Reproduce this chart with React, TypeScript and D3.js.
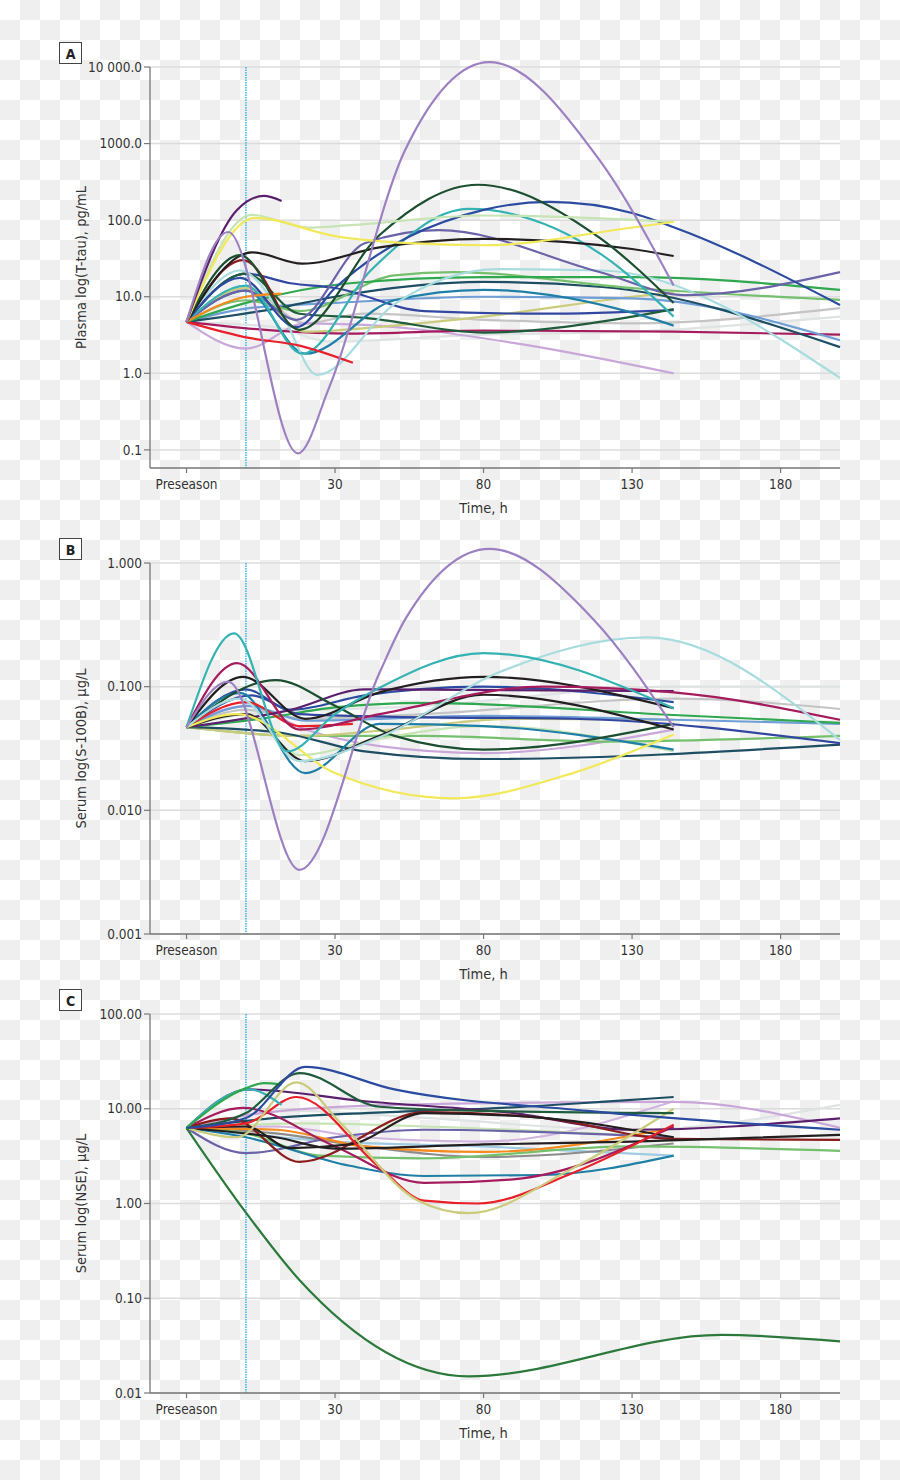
import React from 'react';
import * as d3 from 'd3';

// ---- axes / ticks ----
const X_TICKS = [-20, 30, 80, 130, 180];
const X_LABELS = ['Preseason', '30', '80', '130', '180'];
const CONCUSSION_TIME = 0;

const TAU_TICKS = [10000, 1000, 100, 10, 1, 0.1];
const TAU_LABELS = ['10 000.0', '1000.0', '100.0', '10.0', '1.0', '0.1'];
const S100_TICKS = [1, 0.1, 0.01, 0.001];
const S100_LABELS = ['1.000', '0.100', '0.010', '0.001'];
const NSE_TICKS = [100, 10, 1, 0.1, 0.01];
const NSE_LABELS = ['100.00', '10.00', '1.00', '0.10', '0.01'];

const COLORS: Record<string, string> = {
  purple: '#9d80c2', darkPurple: '#5b1f6e', lightGreen: '#c6e4b4', yellow: '#f2e95a',
  black: '#231f20', darkGreen: '#1c4f30', darkGreen2: '#1f5c3c', blue: '#2b4ba0',
  navy2: '#3347a0', slate: '#6b63a8', green: '#2fa84f', medGreen: '#74c06c',
  darkTeal: '#1d4e63', steel: '#6f9fd6', aqua: '#a8dcdf', gray: '#c4c4c4',
  lightGray: '#dfe3e3', magenta: '#a51c5e', teal: '#35b3b3', cerulean: '#1f7fa6',
  khaki: '#cbcb7c', lilac: '#c9a7d9', red: '#e8202a', darkRed: '#8b1c1c',
  orange: '#f58a1f', midGray: '#8c8c8c', lilac2: '#d2b4e0', lightBlue: '#9fcbe3',
  forest: '#2b7a3b',
};

// ---- Panel A: plasma T-tau (pg/mL); time in h, preseason plotted at -20 ----
const TAU_SERIES: [string, number[][]][] = [
  ['lightGray', [[-20, 4.7], [10, 4], [28, 2.6], [80, 3.2], [130, 3.5], [200, 5.5]]],
  ['gray', [[-20, 4.7], [0, 13], [20, 4.5], [40, 6], [80, 5], [130, 4.5], [200, 7.1]]],
  ['lilac', [[-20, 4.7], [0, 2.1], [20, 4.5], [40, 4.3], [90, 2.5], [144, 1.0]]],
  ['magenta', [[-20, 4.7], [10, 3.6], [35, 3.3], [80, 3.6], [144, 3.5], [200, 3.2]]],
  ['khaki', [[-20, 4.7], [0, 13], [20, 3.5], [50, 4.2], [80, 5.5], [130, 10], [144, 11.5]]],
  ['steel', [[-20, 4.7], [0, 7], [30, 8.3], [80, 10], [130, 9.5], [200, 2.7]]],
  ['darkTeal', [[-20, 4.7], [10, 7], [30, 10], [80, 15.6], [120, 13.4], [200, 2.2]]],
  ['medGreen', [[-20, 4.7], [0, 9], [18, 6.5], [50, 19], [70, 21], [130, 13], [200, 9.1]]],
  ['green', [[-20, 4.7], [0, 8.3], [35, 15], [80, 18], [130, 18], [200, 12.3]]],
  ['navy2', [[-20, 4.7], [0, 20], [15, 15], [30, 13], [60, 6.5], [100, 6], [144, 6.7]]],
  ['darkGreen2', [[-20, 4.7], [0, 20], [18, 6], [40, 5.3], [80, 3.4], [130, 5.5], [144, 6.9]]],
  ['cerulean', [[-20, 4.7], [0, 12], [20, 1.8], [50, 9], [80, 12.3], [130, 6.2], [144, 4.2]]],
  ['aqua', [[-20, 4.7], [-2, 22], [12, 6], [24, 0.95], [50, 8], [85, 23], [120, 22], [200, 0.87]]],
  ['slate', [[-20, 4.7], [0, 12], [17, 5], [40, 50], [65, 74], [119, 21], [148, 10.5], [200, 21]]],
  ['teal', [[-20, 4.7], [0, 14], [19, 1.8], [42, 22], [75, 140], [120, 35], [144, 5.5]]],
  ['blue', [[-20, 4.7], [-2, 17.6], [17, 4.0], [30, 13], [80, 136], [102, 173], [130, 124], [144, 81], [200, 7.8]]],
  ['red', [[-20, 4.7], [1, 2.9], [18, 2.3], [36, 1.37]]],
  ['orange', [[-20, 4.7], [0, 10], [12, 11]]],
  ['darkRed', [[-20, 4.7], [-1, 30], [12, 6.2]]],
  ['black', [[-20, 4.7], [2, 38], [19, 27], [45, 44], [80, 57], [130, 42], [144, 34]]],
  ['darkGreen', [[-20, 4.7], [-2, 35], [18, 3.7], [45, 64], [78, 290], [119, 59], [144, 8.3]]],
  ['lightGreen', [[-20, 4.7], [2, 117], [21, 80], [35, 86], [80, 115], [144, 95]]],
  ['yellow', [[-20, 4.7], [3, 107], [30, 62], [55, 50], [80, 47], [129, 79], [144, 95]]],
  ['darkPurple', [[-20, 4.7], [-3, 136], [6, 207], [12, 178]]],
  ['purple', [[-20, 4.7], [-6, 70], [17.5, 0.09], [28, 0.65], [53.6, 824], [82, 11600], [119, 611], [144, 14]]],
];

// ---- Panel B: serum S-100B (µg/L) ----
const S100_SERIES: [string, number[][]][] = [
  ['lightGray', [[-20, 0.047], [0, 0.06], [60, 0.07], [144, 0.1], [200, 0.1]]],
  ['gray', [[-20, 0.047], [0, 0.065], [20, 0.055], [60, 0.06], [144, 0.08], [200, 0.066]]],
  ['lilac', [[-20, 0.047], [0, 0.07], [20, 0.045], [45, 0.033], [80, 0.029], [144, 0.045]]],
  ['medGreen', [[-20, 0.047], [20, 0.04], [60, 0.04], [120, 0.036], [200, 0.04]]],
  ['lightGreen', [[-20, 0.047], [0, 0.06], [18, 0.028], [45, 0.038], [80, 0.048], [144, 0.03]]],
  ['khaki', [[-20, 0.047], [20, 0.04], [45, 0.044], [90, 0.055], [144, 0.054]]],
  ['darkTeal', [[-20, 0.047], [10, 0.043], [40, 0.03], [80, 0.026], [200, 0.034]]],
  ['steel', [[-20, 0.047], [1, 0.07], [20, 0.053], [80, 0.058], [144, 0.054], [200, 0.05]]],
  ['green', [[-20, 0.047], [5, 0.055], [30, 0.068], [60, 0.074], [144, 0.059], [200, 0.051]]],
  ['navy2', [[-20, 0.047], [2, 0.085], [18, 0.06], [50, 0.057], [110, 0.055], [200, 0.035]]],
  ['blue', [[-20, 0.047], [0, 0.095], [15, 0.065], [40, 0.085], [80, 0.1], [144, 0.075]]],
  ['cerulean', [[-20, 0.047], [-2, 0.089], [20, 0.02], [45, 0.05], [80, 0.048], [144, 0.031]]],
  ['red', [[-20, 0.047], [0, 0.075], [18, 0.048], [36, 0.05]]],
  ['darkPurple', [[-20, 0.047], [15, 0.065], [40, 0.095], [144, 0.092]]],
  ['darkGreen', [[-20, 0.047], [10, 0.113], [30, 0.07], [50, 0.04], [80, 0.031], [144, 0.05]]],
  ['black', [[-20, 0.047], [0, 0.06], [20, 0.025], [45, 0.04], [80, 0.086], [144, 0.045]]],
  ['black', [[-20, 0.047], [-1, 0.12], [20, 0.055], [45, 0.09], [80, 0.12], [144, 0.067]]],
  ['magenta', [[-20, 0.047], [-3, 0.155], [18, 0.045], [45, 0.06], [100, 0.1], [144, 0.09], [200, 0.054]]],
  ['yellow', [[-20, 0.047], [-3, 0.06], [30, 0.02], [70, 0.0125], [110, 0.02], [144, 0.041]]],
  ['aqua', [[-20, 0.047], [-2, 0.08], [18, 0.025], [45, 0.039], [85, 0.13], [135, 0.25], [200, 0.037]]],
  ['teal', [[-20, 0.047], [-4, 0.27], [14, 0.03], [30, 0.06], [45, 0.098], [80, 0.187], [144, 0.067]]],
  ['purple', [[-20, 0.047], [-6, 0.11], [18, 0.0033], [45, 0.13], [53.6, 0.35], [82, 1.3], [117, 0.35], [144, 0.047]]],
];

// ---- Panel C: serum NSE (µg/L) ----
const NSE_SERIES: [string, number[][]][] = [
  ['lightGray', [[-20, 6.26], [15, 9.5], [60, 8], [130, 6], [200, 11]]],
  ['lightBlue', [[-20, 6.26], [30, 4.5], [80, 4], [144, 3.2]]],
  ['lilac2', [[-20, 6.26], [10, 6.5], [40, 5], [80, 4.5], [144, 12]]],
  ['lilac', [[-20, 6.26], [5, 9], [50, 11], [144, 11.8], [200, 6.3]]],
  ['lightGreen', [[-20, 6.26], [20, 7], [60, 6.5], [144, 5]]],
  ['midGray', [[-20, 6.26], [10, 5.5], [40, 4], [80, 3.1], [144, 4.3]]],
  ['slate', [[-20, 6.26], [0, 3.4], [30, 5], [60, 6], [144, 5]]],
  ['medGreen', [[-20, 6.26], [0, 5.5], [25, 3.2], [60, 3.0], [130, 4], [200, 3.6]]],
  ['cerulean', [[-20, 6.26], [0, 5], [35, 2.5], [60, 1.95], [100, 2], [144, 3.2]]],
  ['orange', [[-20, 6.26], [10, 6], [40, 4], [80, 3.5], [144, 6.3]]],
  ['darkTeal', [[-20, 6.26], [10, 8], [40, 9], [80, 10], [144, 13.3]]],
  ['magenta', [[-20, 6.26], [-1, 10.2], [30, 4], [60, 1.65], [90, 1.8], [144, 6.5]]],
  ['darkPurple', [[-20, 6.26], [1, 16], [40, 12], [90, 9], [130, 6], [200, 7.9]]],
  ['darkRed', [[-20, 6.26], [-5, 7.9], [18, 2.75], [60, 9.2], [100, 8], [144, 4.8], [200, 4.7]]],
  ['black', [[-20, 6.26], [10, 5], [30, 3.8], [80, 4.2], [130, 4.5], [200, 5.3]]],
  ['black', [[-20, 6.26], [0, 6.5], [15, 3.85], [35, 4.2], [60, 9], [100, 8], [144, 5]]],
  ['red', [[-20, 6.26], [0, 7], [17, 13.3], [45, 2.4], [60, 1.07], [78, 1.0], [110, 2.1], [144, 6.8]]],
  ['khaki', [[-20, 6.26], [-3, 5], [17, 19], [32, 7], [58, 1.07], [75, 0.79], [109, 2.26], [144, 10]]],
  ['teal', [[-20, 6.26], [1, 16], [12, 11]]],
  ['green', [[-20, 6.26], [0, 16.5], [6, 18.6], [12, 18]]],
  ['darkGreen2', [[-20, 6.26], [0, 9], [18, 23.8], [45, 10.5], [80, 9.5], [144, 9]]],
  ['blue', [[-20, 6.26], [0, 8], [20, 27.6], [50, 16], [115, 9.5], [200, 6]]],
  ['forest', [[-20, 6.26], [0, 0.8], [18, 0.156], [75, 0.015], [160, 0.041], [200, 0.035]]],
];

const FONT = "'DejaVu Sans Condensed', 'DejaVu Sans', sans-serif";
const TEXT = '#333';

type PanelProps = {
  letter: string;
  top: number;
  bottom: number;
  domain: [number, number];
  ticks: number[];
  labels: string[];
  title: string;
  series: [string, number[][]][];
};

const xScale = d3.scaleLinear().domain([-32.3, 200]).range([150, 840]);

function Panel({ letter, top, bottom, domain, ticks, labels, title, series }: PanelProps) {
  const y = d3.scaleLog().domain(domain).range([bottom, top]);
  const line = d3
    .line<number[]>()
    .x((d) => xScale(d[0]))
    .y((d) => y(d[1]))
    .curve(d3.curveMonotoneX);
  const left = xScale.range()[0];
  const right = xScale.range()[1];
  const x0 = xScale(CONCUSSION_TIME);
  const mid = (top + bottom) / 2;
  return (
    <g>
      <rect x={59.5} y={top - 24.5} width={22} height={21} fill="#fff" stroke="#444" strokeWidth={1} />
      <text x={70.5} y={top - 8.5} textAnchor="middle" fontFamily={FONT} fontWeight="bold" fontSize={14} fill="#222">
        {letter}
      </text>
      {ticks.map((t) => (
        <line key={'g' + t} x1={left} x2={right} y1={y(t)} y2={y(t)} stroke="#dcdcdc" strokeWidth={1.5} />
      ))}
      <line x1={x0} x2={x0} y1={top} y2={bottom} stroke="#3ab4e6" strokeWidth={1.5} strokeDasharray="1.5 1" />
      {series.map(([c, pts], i) => (
        <path key={i} d={line(pts) || ''} fill="none" stroke={COLORS[c]} strokeWidth={2.2} />
      ))}
      <line x1={left} x2={left} y1={top} y2={bottom} stroke="#777" strokeWidth={1.3} />
      {ticks.map((t, i) => (
        <g key={'yt' + t}>
          <line x1={left - 6} x2={left} y1={y(t)} y2={y(t)} stroke="#777" strokeWidth={1.2} />
          <text x={left - 8} y={y(t)} dy="0.35em" textAnchor="end" fontFamily={FONT} fontSize={13.5} fill={TEXT}>
            {labels[i]}
          </text>
        </g>
      ))}
      <line x1={left} x2={right} y1={bottom} y2={bottom} stroke="#777" strokeWidth={1.3} />
      {X_TICKS.map((t, i) => (
        <g key={'xt' + t}>
          <line x1={xScale(t)} x2={xScale(t)} y1={bottom} y2={bottom + 5} stroke="#777" strokeWidth={1.2} />
          <text x={xScale(t)} y={bottom + 16} dy="0.35em" textAnchor="middle" fontFamily={FONT} fontSize={13.5} fill={TEXT}>
            {X_LABELS[i]}
          </text>
        </g>
      ))}
      <text x={xScale(80)} y={bottom + 40} dy="0.35em" textAnchor="middle" fontFamily={FONT} fontSize={14.5} fill={TEXT}>
        Time, h
      </text>
      <text
        transform={`translate(81,${mid}) rotate(-90)`}
        textAnchor="middle"
        dy="0.35em"
        fontFamily={FONT}
        fontSize={14.5}
        fill={TEXT}
      >
        {title}
      </text>
    </g>
  );
}

export default function App() {
  return (
    <svg
      width={900}
      height={1480}
      viewBox="0 0 900 1480"
      style={{ position: 'absolute', left: 0, top: 0, display: 'block' }}
    >
      <defs>
        <pattern id="checker" x={0} y={0} width={40} height={40} patternUnits="userSpaceOnUse">
          <rect width={40} height={40} fill="#ffffff" />
          <rect x={20} y={0} width={20} height={20} fill="#efefef" />
          <rect x={0} y={20} width={20} height={20} fill="#efefef" />
        </pattern>
      </defs>
      <rect width={900} height={1480} fill="url(#checker)" />
      <Panel
        letter="A"
        top={67}
        bottom={468}
        domain={[0.058, 10000]}
        ticks={TAU_TICKS}
        labels={TAU_LABELS}
        title="Plasma log(T-tau), pg/mL"
        series={TAU_SERIES}
      />
      <Panel
        letter="B"
        top={563}
        bottom={934}
        domain={[0.001, 1]}
        ticks={S100_TICKS}
        labels={S100_LABELS}
        title="Serum log(S-100B), µg/L"
        series={S100_SERIES}
      />
      <Panel
        letter="C"
        top={1014}
        bottom={1393}
        domain={[0.01, 100]}
        ticks={NSE_TICKS}
        labels={NSE_LABELS}
        title="Serum log(NSE), µg/L"
        series={NSE_SERIES}
      />
    </svg>
  );
}
